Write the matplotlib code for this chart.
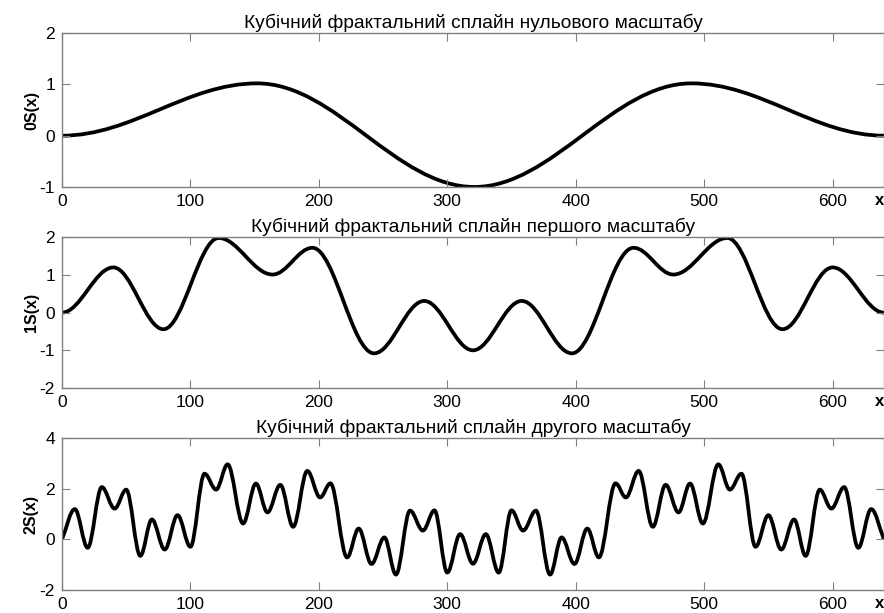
import numpy as np
import matplotlib
matplotlib.use("Agg")
import matplotlib.pyplot as plt
from matplotlib.path import Path
from matplotlib.patches import PathPatch

plt.rcParams['font.family'] = ['Liberation Sans', 'DejaVu Sans']
plt.rcParams['axes.unicode_minus'] = False

# extrema of each spline (x, value)
x0 = [0, 152, 321, 490, 640]
y0 = [0, 1.02, -1.0, 1.02, 0]

x1 = [0, 40, 79, 122, 164, 195, 243, 282, 320, 358, 397, 445, 476, 518, 561, 600, 640]
y1 = [0, 1.2, -0.44, 1.98, 1.01, 1.72, -1.08, 0.31, -1.0, 0.31, -1.08, 1.72, 1.01, 1.98, -0.44, 1.2, 0]

x2 = [0, 10, 20, 31, 41, 50, 61, 70, 80, 90, 100, 111, 120, 129, 141, 151, 160, 170, 180,
      191, 201, 209, 222, 231, 241, 251, 260, 271, 281, 290, 300, 310, 320,
      330, 340, 350, 359, 369, 380, 389, 399, 409, 418, 431, 439, 449, 460, 470,
      480, 489, 499, 511, 520, 529, 540, 550, 560, 570, 579, 590, 599, 609, 620, 630, 640]
y2 = [0, 1.2, -0.33, 2.07, 1.22, 1.97, -0.65, 0.79, -0.4, 0.96, -0.29, 2.6, 1.97, 2.97, 0.63, 2.21, 1.07, 2.16, 0.5,
      2.71, 1.66, 2.22, -0.71, 0.43, -0.97, 0.08, -1.39, 1.14, 0.35, 1.15, -1.31, 0.21, -0.96,
      0.21, -1.31, 1.15, 0.35, 1.14, -1.39, 0.08, -0.97, 0.43, -0.71, 2.22, 1.66, 2.71, 0.5, 2.16,
      1.07, 2.21, 0.63, 2.97, 1.97, 2.6, -0.29, 0.96, -0.4, 0.79, -0.65, 1.97, 1.22, 2.07, -0.33, 1.2, 0]

titles = ['Кубічний фрактальний сплайн нульового масштабу',
          'Кубічний фрактальний сплайн першого масштабу',
          'Кубічний фрактальний сплайн другого масштабу']
ylabels = ['0S(x)', '1S(x)', '2S(x)']
xticks = [0, 100, 200, 300, 400, 500, 600]
yticks = [[-1, 0, 1, 2], [-2, -1, 0, 1, 2], [-2, 0, 2, 4]]


def spline_patch(xs, ys, flat_ends, k=0.36):
    verts = [(xs[0], ys[0])]
    codes = [Path.MOVETO]
    n = len(xs)
    for i in range(n - 1):
        xa, ya, xb, yb = xs[i], ys[i], xs[i + 1], ys[i + 1]
        dx = xb - xa
        if i == 0 and not flat_ends:
            c1 = (xa + k * dx, ya + k * (yb - ya))
        else:
            c1 = (xa + k * dx, ya)
        if i == n - 2 and not flat_ends:
            c2 = (xb - k * dx, yb - k * (yb - ya))
        else:
            c2 = (xb - k * dx, yb)
        verts += [c1, c2, (xb, yb)]
        codes += [Path.CURVE4] * 3
    return PathPatch(Path(verts, codes), fill=False, edgecolor='black',
                     lw=2.7, joinstyle='round', capstyle='butt')


fig = plt.figure(figsize=(8.84, 6.13), dpi=100)
boxes = [(0.0701, 0.695, 0.9299, 0.251),
         (0.0701, 0.367, 0.9299, 0.246),
         (0.0701, 0.0375, 0.9299, 0.2475)]
series = [(x0, y0, True), (x1, y1, True), (x2, y2, False)]
ylims = [(-1, 2), (-2, 2), (-2, 4)]

for i in range(3):
    ax = fig.add_axes(boxes[i])
    xs, ys, flat = series[i]
    ax.add_patch(spline_patch(xs, ys, flat))
    ax.set_xlim(0, 640)
    ax.set_ylim(*ylims[i])
    ax.set_xticks(xticks)
    ax.set_yticks(yticks[i])
    ax.tick_params(direction='in', length=6, width=0.8, color='#808080',
                   top=True, right=True, labelsize=12.5, pad=5)
    for sp in ax.spines.values():
        sp.set_color('#808080')
        sp.set_linewidth(1)
    ax.set_title(titles[i], fontsize=13.8, pad=4)
    ax.set_ylabel(ylabels[i], fontsize=11.5, fontweight='bold')
    ax.yaxis.set_label_coords(-0.028, 0.5)
    ax.annotate('x', xy=(0.994, 0), xycoords='axes fraction', xytext=(0, -9.5),
                textcoords='offset points', ha='center', va='center',
                fontsize=12, fontweight='bold')

fig.savefig('out.png', dpi=100)
